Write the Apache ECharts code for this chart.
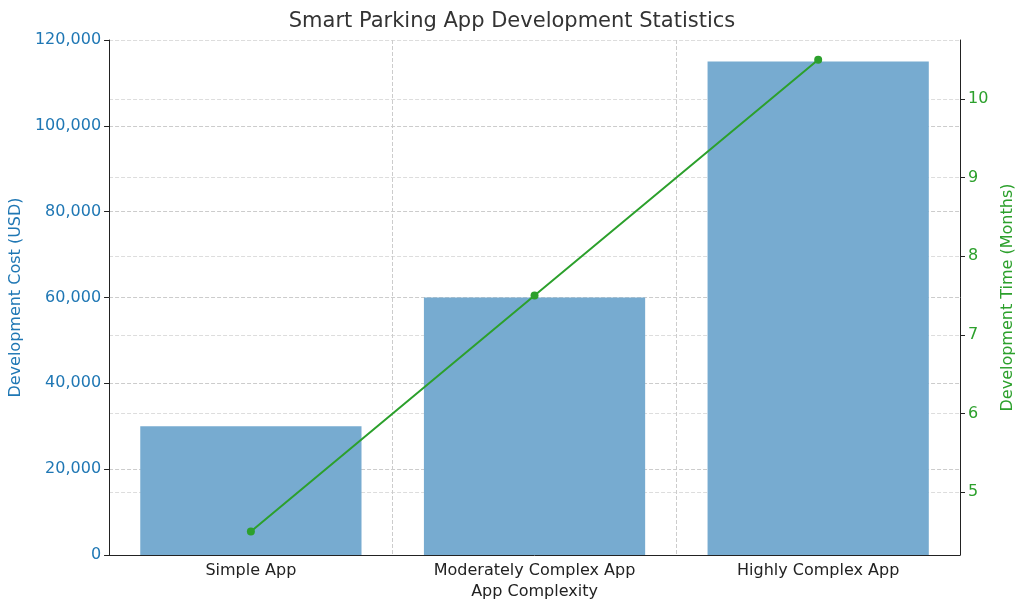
<!DOCTYPE html>
<html>
<head>
<meta charset="utf-8">
<script src="https://cdn.jsdelivr.net/npm/echarts@6/dist/echarts.min.js"></script>
<style>html,body{margin:0;padding:0;background:#fff}#chart{width:1024px;height:610px}</style>
</head>
<body>
<div id="chart"></div>
<script>
const categories = ['Simple App', 'Moderately Complex App', 'Highly Complex App'];
const costs = [30000, 60000, 115000];
const months = [4.5, 7.5, 10.5];

const chart = echarts.init(document.getElementById('chart'));
const font = 'DejaVu Sans';
const option = {
    animation: false,
    textStyle: {fontFamily: font},
    title: {
        text: 'Smart Parking App Development Statistics',
        left: 'center', top: 6,
        textStyle: {fontFamily: font, fontSize: 21, fontWeight: 'normal', color: '#333'}
    },
    grid: {left: 105, right: 59, top: 40, bottom: 55},
    xAxis: {
        type: 'category',
        data: categories,
        name: 'App Complexity',
        nameLocation: 'middle',
        nameGap: 28,
        nameTextStyle: {fontSize: 16, color: '#222'},
        axisLine: {lineStyle: {color: '#222'}},
        axisTick: {alignWithLabel: true, lineStyle: {color: '#222'}},
        axisLabel: {fontSize: 16, color: '#222', margin: 8},
        splitLine: {show: true, lineStyle: {type: 'dashed', color: '#ccc'}}
    },
    yAxis: [{
        type: 'value',
        min: 0, max: 120000, interval: 20000,
        name: 'Development Cost (USD)',
        nameLocation: 'middle',
        nameGap: 80,
        nameTextStyle: {fontSize: 16, color: '#1f77b4'},
        axisLine: {show: true, lineStyle: {color: '#222'}},
        axisTick: {show: true, lineStyle: {color: '#222'}},
        axisLabel: {fontSize: 16, color: '#1f77b4'},
        splitLine: {lineStyle: {type: 'dashed', color: '#ccc'}}
    }, {
        type: 'value',
        min: 4.2, max: 10.75,
        name: 'Development Time (Months)',
        nameLocation: 'middle',
        nameGap: 40,
        nameRotate: 90,
        nameTextStyle: {fontSize: 16, color: '#2ca02c'},
        axisLine: {show: true, lineStyle: {color: '#222'}},
        axisTick: {show: true, lineStyle: {color: '#222'}},
        axisLabel: {fontSize: 16, color: '#2ca02c', showMinLabel: false, showMaxLabel: false,
            formatter: v => Number.isInteger(v) ? String(v) : ''},
        splitLine: {lineStyle: {type: 'dashed', color: '#ddd'}}
    }],
    series: [{
        type: 'bar',
        data: costs,
        barWidth: '78%',
        itemStyle: {color: '#77abd0'}
    }, {
        type: 'line',
        yAxisIndex: 1,
        data: months,
        symbol: 'circle',
        symbolSize: 8,
        lineStyle: {color: '#2ca02c', width: 2},
        itemStyle: {color: '#2ca02c'}
    }]
};
chart.setOption(option);
</script>
</body>
</html>
